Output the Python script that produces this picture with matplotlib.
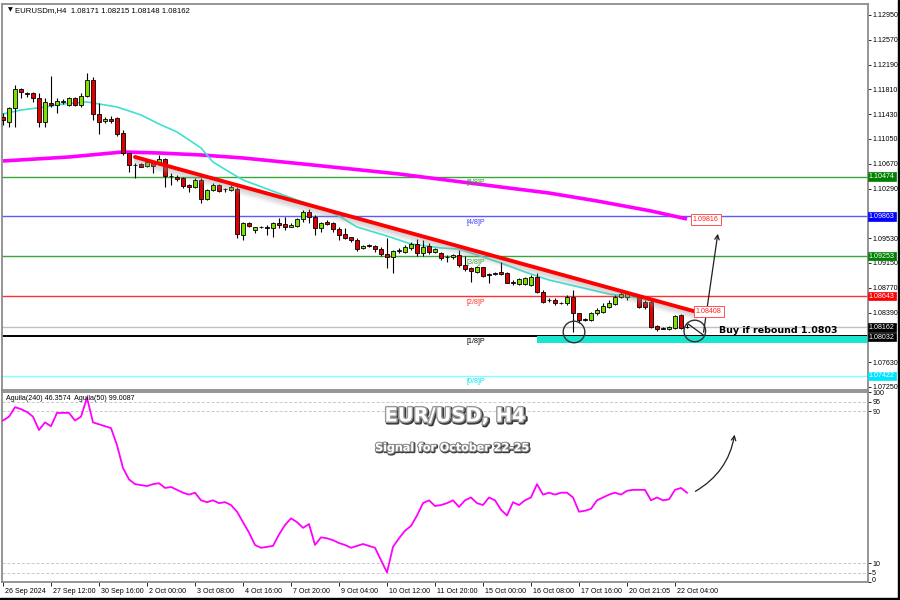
import matplotlib
matplotlib.use('Agg')
import matplotlib.pyplot as plt
import matplotlib.patheffects as pe
from matplotlib.patches import Ellipse, Rectangle
from matplotlib.transforms import blended_transform_factory, ScaledTranslation
import numpy as np

plt.rcParams['font.family'] = ['Liberation Sans', 'DejaVu Sans']

# ---------------- data ----------------
opens = [1.11392, 1.11315, 1.11520, 1.11811, 1.11755, 1.11750, 1.11673, 1.11315, 1.11606, 1.11571,
         1.11612, 1.11571, 1.11673, 1.11571, 1.11709, 1.11954, 1.11428, 1.11326, 1.11361, 1.11367,
         1.11146, 1.10831, 1.10654, 1.10662, 1.10636, 1.10677, 1.10667, 1.10739, 1.10487, 1.10472,
         1.10448, 1.10345, 1.10310, 1.10422, 1.10126, 1.10268, 1.10345, 1.10284, 1.10268, 1.10291,
         1.09579, 1.09758, 1.09655, 1.09709, 1.09706, 1.09681, 1.09767, 1.09743, 1.09706, 1.09717,
         1.09819, 1.09936, 1.09859, 1.09681, 1.09783, 1.09758, 1.09666, 1.09594, 1.09544, 1.09502,
         1.09375, 1.09418, 1.09415, 1.09364, 1.09288, 1.09237, 1.09338, 1.09323, 1.09384, 1.09436,
         1.09308, 1.09410, 1.09323, 1.09308, 1.09249, 1.09237, 1.09272, 1.09119, 1.09068, 1.09016,
         1.09084, 1.08981, 1.09001, 1.09016, 1.08992, 1.08863, 1.08828, 1.08828, 1.08813, 1.08940,
         1.08710, 1.08586, 1.08583, 1.08544, 1.08532, 1.08633, 1.08379, 1.08292, 1.08276, 1.08379,
         1.08404, 1.08471, 1.08521, 1.08633, 1.08633, 1.08659, 1.08644, 1.08557, 1.08557, 1.08184,
         1.08154, 1.08138, 1.08149, 1.08353, 1.08171]
highs = [1.11448, 1.11545, 1.11877, 1.11827, 1.11775, 1.11775, 1.11750, 1.11673, 1.12015, 1.11673,
         1.11658, 1.11698, 1.11689, 1.11750, 1.12066, 1.12004, 1.11597, 1.11382, 1.11402, 1.11382,
         1.11188, 1.10840, 1.10677, 1.10677, 1.10713, 1.10687, 1.10805, 1.10754, 1.10524, 1.10498,
         1.10472, 1.10360, 1.10448, 1.10448, 1.10279, 1.10371, 1.10360, 1.10304, 1.10345, 1.10319,
         1.09783, 1.09773, 1.09706, 1.09721, 1.09732, 1.09783, 1.09835, 1.09850, 1.09758, 1.09835,
         1.09962, 1.09973, 1.09885, 1.09783, 1.09809, 1.09783, 1.09706, 1.09681, 1.09553, 1.09528,
         1.09426, 1.09441, 1.09426, 1.09399, 1.09528, 1.09349, 1.09375, 1.09426, 1.09476, 1.09513,
         1.09502, 1.09452, 1.09375, 1.09323, 1.09272, 1.09288, 1.09349, 1.09257, 1.09084, 1.09104,
         1.09093, 1.08992, 1.09012, 1.09170, 1.09016, 1.08889, 1.08915, 1.08931, 1.08966, 1.09001,
         1.08736, 1.08609, 1.08609, 1.08557, 1.08659, 1.08736, 1.08388, 1.08307, 1.08394, 1.08456,
         1.08532, 1.08583, 1.08659, 1.08710, 1.08710, 1.08686, 1.08659, 1.08583, 1.08583, 1.08200,
         1.08164, 1.08189, 1.08353, 1.08368, 1.08215]
lows = [1.11264, 1.11238, 1.11238, 1.11673, 1.11689, 1.11621, 1.11238, 1.11238, 1.11545, 1.11444,
        1.11582, 1.11555, 1.11555, 1.11545, 1.11698, 1.11341, 1.11126, 1.11290, 1.11290, 1.11096,
        1.10805, 1.10549, 1.10448, 1.10616, 1.10625, 1.10524, 1.10651, 1.10319, 1.10345, 1.10411,
        1.10294, 1.10242, 1.10294, 1.10074, 1.10115, 1.10258, 1.10242, 1.10242, 1.10258, 1.09533,
        1.09502, 1.09706, 1.09605, 1.09681, 1.09579, 1.09553, 1.09681, 1.09655, 1.09697, 1.09706,
        1.09783, 1.09767, 1.09579, 1.09629, 1.09732, 1.09629, 1.09502, 1.09513, 1.09476, 1.09338,
        1.09360, 1.09390, 1.09323, 1.09257, 1.09068, 1.08992, 1.09308, 1.09298, 1.09349, 1.09257,
        1.09257, 1.09288, 1.09308, 1.09196, 1.09170, 1.09216, 1.09084, 1.09032, 1.08863, 1.09001,
        1.08940, 1.08839, 1.08966, 1.08966, 1.08839, 1.08813, 1.08813, 1.08813, 1.08797, 1.08686,
        1.08541, 1.08557, 1.08506, 1.08521, 1.08506, 1.08097, 1.08226, 1.08266, 1.08266, 1.08353,
        1.08379, 1.08456, 1.08506, 1.08609, 1.08583, 1.08644, 1.08456, 1.08440, 1.08149, 1.08108,
        1.08134, 1.08123, 1.08134, 1.08134, 1.08148]
closes = [1.11341, 1.11520, 1.11811, 1.11765, 1.11744, 1.11673, 1.11315, 1.11621, 1.11571, 1.11632,
          1.11627, 1.11673, 1.11571, 1.11709, 1.11954, 1.11428, 1.11315, 1.11352, 1.11330, 1.11126,
          1.10831, 1.10651, 1.10647, 1.10625, 1.10693, 1.10636, 1.10739, 1.10483, 1.10478, 1.10432,
          1.10330, 1.10310, 1.10422, 1.10126, 1.10268, 1.10345, 1.10258, 1.10276, 1.10319, 1.09594,
          1.09758, 1.09721, 1.09697, 1.09701, 1.09681, 1.09758, 1.09732, 1.09706, 1.09732, 1.09819,
          1.09936, 1.09859, 1.09681, 1.09767, 1.09747, 1.09666, 1.09579, 1.09528, 1.09502, 1.09360,
          1.09410, 1.09410, 1.09360, 1.09288, 1.09237, 1.09338, 1.09344, 1.09390, 1.09436, 1.09308,
          1.09399, 1.09323, 1.09360, 1.09222, 1.09242, 1.09268, 1.09119, 1.09053, 1.09032, 1.09084,
          1.08951, 1.08973, 1.08977, 1.08981, 1.08848, 1.08839, 1.08900, 1.08915, 1.08940, 1.08710,
          1.08557, 1.08578, 1.08532, 1.08537, 1.08633, 1.08379, 1.08276, 1.08284, 1.08379, 1.08430,
          1.08491, 1.08541, 1.08633, 1.08675, 1.08686, 1.08655, 1.08480, 1.08471, 1.08174, 1.08134,
          1.08146, 1.08174, 1.08338, 1.08149, 1.08162]

# moving averages (bar index, price)
ma_fast_idx = [0, 3, 7, 10, 14, 17, 19, 23, 26, 29, 33, 35, 38, 40, 44, 49, 53, 56, 59, 64,
               68, 73, 76, 83, 87, 91, 96, 101, 106, 110, 114]
ma_fast_val = [1.11433, 1.11494, 1.11540, 1.11586, 1.11617, 1.11571, 1.11540, 1.11418, 1.11280,
               1.11157, 1.10912, 1.10697, 1.10529, 1.10422, 1.10284, 1.10115, 1.09992, 1.09870,
               1.09701, 1.09563, 1.09441, 1.09380, 1.09364, 1.09150, 1.09012, 1.08889, 1.08782,
               1.08675, 1.08613, 1.08537, 1.08445]
ma_slow_idx = [0, 11, 20, 26, 33, 40, 50, 66, 83, 91, 99, 108, 114]
ma_slow_val = [1.10713, 1.10774, 1.10851, 1.10835, 1.10805, 1.10759, 1.10667, 1.10514, 1.10314,
               1.10222, 1.10100, 1.09947, 1.09824]

# Aguila oscillator
aguila = [85, 87, 92, 91, 89.5, 87, 80, 84, 82, 89, 89, 89, 85, 87, 97, 84, 83, 82, 81, 72,
          60, 54, 51.5, 51, 50.5, 51.5, 52, 49.5, 50, 48.5, 47, 46, 47, 43, 42, 43, 41.5, 42, 40.5, 37,
          31.5, 26, 19.5, 18, 18.5, 19, 25, 30, 33.5, 31.5, 28.5, 30.5, 19.5, 23.5, 23, 22, 20.5, 19.5, 18, 19,
          20, 19, 18, 11.5, 5, 18.5, 23, 27, 29.5, 35, 41.5, 43, 40, 40.5, 41.5, 43, 39.5, 43, 44.5, 41.5,
          40.5, 44.5, 43, 38, 35, 42, 40.5, 43, 44.5, 51.5, 46, 47, 46, 47, 47, 44.5, 37, 37.5, 38.5, 43,
          44.5, 46, 47, 46, 48, 48.5, 48.5, 48.5, 43, 44.5, 43, 43.5, 48.5, 49.5, 47]

# trendline
trend_idx = [22, 115.3]
trend_val = [1.10774, 1.08408]

# Murrey levels
levels = [1.10474, 1.09863, 1.09253, 1.08643, 1.08032, 1.07422]
level_names = ["[5/8]P", "[4/8]P", "[3/8]P", "[2/8]P", "[1/8]P", "[0/8]P"]
level_line_colors = ['#3aa53a', '#5a5aff', '#3aa53a', '#ff3030', '#000000', '#7fffff']
level_text_colors = ['#2e9e2e', '#3c3cff', '#2e9e2e', '#ff3030', '#000000', '#00e0f0']
level_box_colors = ['#008000', '#0000ff', '#008000', '#ff0000', '#000000', '#00e5ff']
bid_price = 1.08162

price_ticks = [1.12950, 1.12570, 1.12190, 1.11810, 1.11430, 1.11050, 1.10670, 1.10290,
               1.09530, 1.09150, 1.08770, 1.08390, 1.07630, 1.07250]
osc_ticks = [0, 5, 10, 90, 95, 100]
date_tick_idx = [0, 8, 16, 24, 32, 40, 48, 56, 64, 72, 80, 88, 96, 104, 112]
date_labels = ["26 Sep 2024", "27 Sep 12:00", "30 Sep 16:00", "2 Oct 00:00", "3 Oct 08:00",
               "4 Oct 16:00", "7 Oct 20:00", "9 Oct 04:00", "10 Oct 12:00", "11 Oct 20:00",
               "15 Oct 00:00", "16 Oct 08:00", "17 Oct 16:00", "20 Oct 21:05", "22 Oct 04:00"]

# ---------------- layout ----------------
W, H = 900, 600
fig = plt.figure(figsize=(9, 6), dpi=100)
fig.patch.set_facecolor('white')


def fax(l, t, r, b):
    return [l / W, 1 - b / H, (r - l) / W, (b - t) / H]


ax = fig.add_axes(fax(2, 4, 868, 390))
ax2 = fig.add_axes(fax(2, 392, 868, 582))
XL = (-1 / 6, 866 / 6 - 1 / 6)
for a in (ax, ax2):
    a.set_xlim(*XL)
    for s in a.spines.values():
        s.set_color('#8c8c8c')
        s.set_linewidth(1.3)
ax.set_ylim(1.07204, 1.13118)
ax2.set_ylim(0, 100)

SMALL = 5.1
# price axis
ax.yaxis.tick_right()
ax.set_yticks(price_ticks)
ax.set_yticklabels([f"{t:.5f}" for t in price_ticks])
ax.tick_params(axis='y', direction='out', length=2.2, width=0.6, pad=0.8, labelsize=SMALL)
ax.set_xticks([])

# oscillator axis
ax2.yaxis.tick_right()
ax2.set_yticks(osc_ticks)
ax2.set_yticklabels([str(t) for t in osc_ticks])
ax2.tick_params(axis='y', direction='out', length=2.2, width=0.6, pad=0.8, labelsize=SMALL)
ax2.set_xticks(date_tick_idx)
ax2.set_xticklabels(date_labels)
ax2.tick_params(axis='x', direction='out', length=3, width=0.6, pad=1.5, labelsize=SMALL)
off = ScaledTranslation(2 / 100, 0, fig.dpi_scale_trans)
for lab in ax2.get_xticklabels():
    lab.set_horizontalalignment('left')
    lab.set_transform(lab.get_transform() + off)
for lab, t in zip(ax2.get_yticklabels(), osc_ticks):
    if t == 100:
        lab.set_verticalalignment('bottom')
        lab.set_transform(lab.get_transform() + ScaledTranslation(0, -5 / 100, fig.dpi_scale_trans))
    if t == 0:
        lab.set_transform(lab.get_transform() + ScaledTranslation(0, 3 / 100, fig.dpi_scale_trans))

bars = np.arange(len(opens))
o = np.array(opens); h = np.array(highs); l = np.array(lows); c = np.array(closes)

# moving averages
ax.plot(ma_slow_idx, ma_slow_val, color='#ff00ff', lw=2.6, zorder=2, solid_capstyle='butt')
ax.plot(ma_fast_idx, ma_fast_val, color='#40e0d0', lw=1.2, zorder=2)

# levels
yt = blended_transform_factory(ax.transAxes, ax.transData)
box_shift = {1.08032: -1.2 / 100}
for lv, nm, lc, tc, bc in zip(levels, level_names, level_line_colors, level_text_colors, level_box_colors):
    ax.axhline(lv, color=lc, lw=1.4 if lc == '#000000' else 1.0, zorder=1.5)
    ax.annotate(nm, xy=(77.2, lv), xytext=(0, -4.3), textcoords='offset points',
                ha='left', va='center', fontsize=SMALL, color=tc, zorder=4)
    tr = yt + ScaledTranslation(0, box_shift.get(lv, 0), fig.dpi_scale_trans)
    ax.text(1.0 + 1 / 866, lv, f"{lv:.5f}", transform=tr, ha='left', va='center',
            fontsize=SMALL, color='white', zorder=12, clip_on=False,
            bbox=dict(boxstyle='square,pad=0.1', fc=bc, ec=bc, lw=0.5))
ax.axhline(bid_price, color='#c0c0c0', lw=1.0, zorder=1.5)
ax.text(1.0 + 1 / 866, bid_price, f"{bid_price:.5f}", transform=yt, ha='left', va='center',
        fontsize=SMALL, color='white', zorder=11, clip_on=False,
        bbox=dict(boxstyle='square,pad=0.1', fc='#000000', ec='#000000', lw=0.5))

# cyan zone
ax.add_patch(Rectangle((89, 1.07924), XL[1] - 89, 1.08024 - 1.07924,
                       facecolor='#19e6cf', edgecolor='none', zorder=1.6))

# candles
ax.vlines(bars, l, h, color='black', lw=0.8, zorder=3)
up = c >= o
cols = np.where(up, '#7fe000', '#e00000')
ax.bar(bars, c - o, bottom=o, width=0.7, color=cols, edgecolor='black', linewidth=0.6, zorder=3.5)

# trendline with shadow
effects = [pe.SimpleLineShadow(offset=(0.6, -1.1 * k), shadow_color='#9a9a9a', alpha=0.26 - 0.04 * k)
           for k in range(1, 6)] + [pe.Normal()]
ax.plot(trend_idx, trend_val, color='#ff0000', lw=2.8, zorder=5, path_effects=effects,
        solid_capstyle='round')

# red price tags
for xi, pv in [(115.0, 1.09816), (115.5, 1.08408)]:
    ax.text(xi, pv, f"{pv:.5f}", ha='left', va='center', fontsize=SMALL, color='#ff2020', zorder=8,
            bbox=dict(boxstyle='square,pad=0.25', fc='white', ec='#ff5050', lw=0.7))

# circles
for cx, cy in [(95.17, 1.08093), (115.3, 1.08108)]:
    ax.add_patch(Ellipse((cx, cy), 3.6, 0.0033, fill=False, ec='#303030', lw=1.0, zorder=6))

# projected path + arrow
ax.plot([114.2, 116.7], [1.08215, 1.08047], color='#202020', lw=0.9, zorder=6)
ax.annotate('', xy=(119.2, 1.09640), xytext=(116.7, 1.08047),
            arrowprops=dict(arrowstyle='->', color='#202020', lw=0.9, mutation_scale=8), zorder=6)

ax.text(119.3, 1.08123, "Buy if rebound 1.0803", fontsize=6.8, fontweight='bold',
        family='DejaVu Sans', ha='left', va='center', color='black', zorder=8)

# header
ax.text(6 / 866, 0.984, "\u25bc", transform=ax.transAxes, fontsize=4.5, va='center', ha='left',
        family=['DejaVu Sans'])
ax.text(13 / 866, 0.984, "EURUSDm,H4  1.08171 1.08215 1.08148 1.08162", transform=ax.transAxes,
        fontsize=5.6, va='center', ha='left')

# oscillator
for lvl in (95, 90, 10, 5):
    ax2.axhline(lvl, color='#c8c8c8', lw=0.7, ls=(0, (3, 2)), zorder=1)
ax2.plot(bars, aguila, color='#ff00ff', lw=1.3, zorder=3)
ax2.text(4 / 866, (582 - 398) / 190, "Aguila(240) 46.3574  Aguila(50) 99.0087",
         transform=ax2.transAxes, fontsize=SMALL, va='center', ha='left', zorder=5)
ax2.annotate('', xy=(122, 79), xytext=(115, 47),
             arrowprops=dict(arrowstyle='->', color='#202020', lw=0.9, mutation_scale=8,
                             connectionstyle='arc3,rad=0.25'))

# titles
title_fx = [pe.Stroke(linewidth=2.6, foreground='#3c3c3c', offset=(0.9, -0.9)),
            pe.Stroke(linewidth=2.0, foreground='#9a9a9a'), pe.Normal()]
fig.text(455 / W, 1 - 416 / H, "EUR/USD, H4", ha='center', va='center', fontsize=14,
         fontweight='bold', family='DejaVu Sans', color='white', path_effects=title_fx, zorder=20)
fig.text(452 / W, 1 - 448 / H, "Signal for October 22-25", ha='center', va='center', fontsize=8,
         fontweight='bold', family='DejaVu Sans', color='white', zorder=20,
         path_effects=[pe.Stroke(linewidth=2.0, foreground='#3c3c3c', offset=(0.6, -0.6)),
                       pe.Stroke(linewidth=1.5, foreground='#8a8a8a'), pe.Normal()])

# outer frame (right and bottom)
fig.add_artist(Rectangle((898 / W, 0), 2 / W, 1, transform=fig.transFigure, color='black'))
fig.add_artist(Rectangle((0, 0), 1, 2 / H, transform=fig.transFigure, color='black'))

fig.savefig('out.png', dpi=100, facecolor='white')
